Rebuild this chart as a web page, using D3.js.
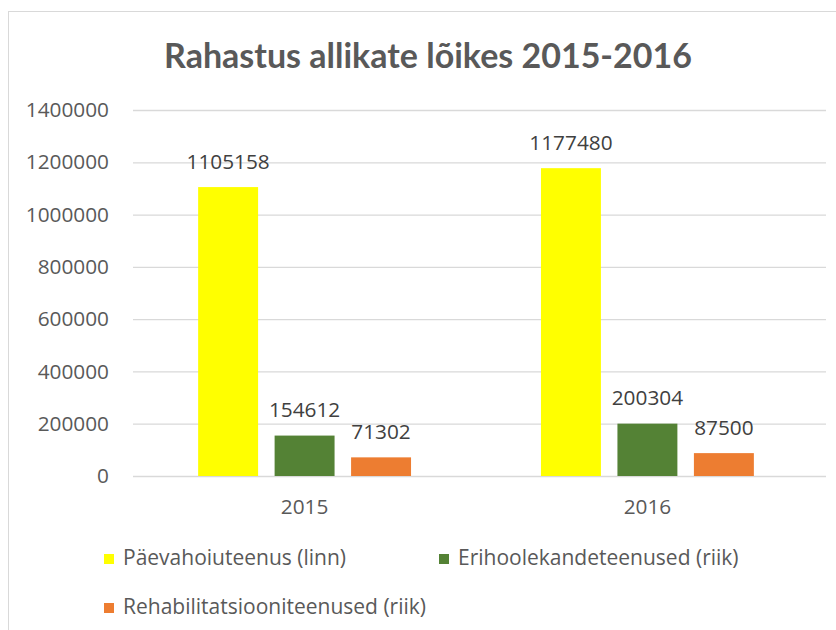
<!DOCTYPE html>
<html><head><meta charset="utf-8">
<script src="https://cdn.jsdelivr.net/npm/d3@7"></script>
<style>body{margin:0;background:#fff;} svg{display:block;}</style>
</head><body>
<svg id="c" width="836" height="630"></svg>
<script>
const categories = ["2015", "2016"];
const seriesNames = ["Päevahoiuteenus (linn)", "Erihoolekandeteenused (riik)", "Rehabilitatsiooniteenused (riik)"];
const seriesColors = ["#FFFF00", "#548235", "#ED7D31"];
const paevahoiu = [1105158, 1177480];
const erihoolekande = [154612, 200304];
const rehabilitatsioon = [71302, 87500];
const yTicks = [0, 200000, 400000, 600000, 800000, 1000000, 1200000, 1400000];
const title = "Rahastus allikate lõikes 2015-2016";

const series = [paevahoiu, erihoolekande, rehabilitatsioon];
const font = "'Open Sans', sans-serif";
const titleFont = "Lato, 'Open Sans', sans-serif";
const svg = d3.select("#c");

svg.append("rect").attr("x", 8.5).attr("y", 11.5).attr("width", 840).attr("height", 640)
  .attr("fill", "#fff").attr("stroke", "#d9d9d9").attr("stroke-width", 1);

const plot = {l: 133, r: 819, t: 110, b: 476};
const x0 = d3.scaleBand().domain(categories).range([plot.l, plot.r]).paddingInner(0.379).paddingOuter(0.19);
const x1 = d3.scaleBand().domain(d3.range(series.length)).range([0, x0.bandwidth()]).paddingInner(0.216);
const y = d3.scaleLinear().domain([0, 1400000]).range([plot.b, plot.t]);

svg.append("text").attr("x", 428).attr("y", 68).attr("text-anchor", "middle")
  .attr("font-family", titleFont).attr("font-weight", "bold").attr("font-size", 34)
  .attr("fill", "#595959").text(title);

const yAxis = svg.append("g").attr("transform", `translate(${plot.l},0)`)
  .call(d3.axisLeft(y).tickValues(yTicks).tickSize(-(plot.r - plot.l + 7)).tickPadding(24).tickFormat(d3.format("d")));
yAxis.select(".domain").remove();
yAxis.selectAll(".tick line").attr("stroke", "#d9d9d9").attr("stroke-width", 1.3);
yAxis.selectAll(".tick text").attr("font-family", font).attr("font-size", 20.8).attr("fill", "#595959");

const xAxis = svg.append("g").attr("transform", `translate(0,${plot.b})`)
  .call(d3.axisBottom(x0).tickSize(0).tickPadding(23));
xAxis.select(".domain").remove();
xAxis.selectAll(".tick text").attr("font-family", font).attr("font-size", 20.8).attr("fill", "#595959");

const groups = svg.append("g").selectAll("g").data(categories).join("g")
  .attr("transform", d => `translate(${x0(d)},0)`);
groups.selectAll("rect").data((d, i) => series.map((s, k) => ({k, v: s[i]}))).join("rect")
  .attr("x", d => x1(d.k)).attr("width", x1.bandwidth())
  .attr("y", d => y(d.v)).attr("height", d => y(0) - y(d.v))
  .attr("fill", d => seriesColors[d.k]);
groups.selectAll("text").data((d, i) => series.map((s, k) => ({k, v: s[i]}))).join("text")
  .attr("x", d => x1(d.k) + x1.bandwidth() / 2).attr("y", d => y(d.v) - 18.5)
  .attr("text-anchor", "middle").attr("font-family", font).attr("font-size", 20.8)
  .attr("fill", "#404040").text(d => d.v);

const legendPos = [[104, 565], [439, 565], [104, 614]];
const lg = svg.append("g").selectAll("g").data(seriesNames).join("g")
  .attr("transform", (d, i) => `translate(${legendPos[i][0]},${legendPos[i][1]})`);
lg.append("rect").attr("x", 0).attr("y", -11).attr("width", 10).attr("height", 10)
  .attr("fill", (d, i) => seriesColors[i]);
lg.append("text").attr("x", 19).attr("y", 0).attr("font-family", font).attr("font-size", 21)
  .attr("fill", "#595959").text(d => d);
</script>
</body></html>
